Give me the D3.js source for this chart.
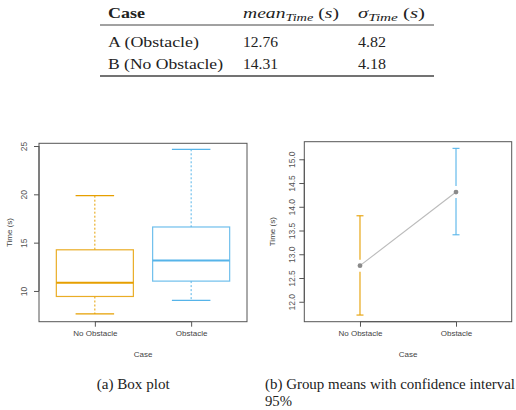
<!DOCTYPE html>
<html><head><meta charset="utf-8">
<script src="https://cdn.jsdelivr.net/npm/d3@7"></script>
<style>body{margin:0;background:#fff}svg{display:block}</style>
</head><body>
<script>
// ---- data ----
const categories = ["No Obstacle", "Obstacle"];
const boxLow    = [7.62, 9.02];
const boxQ1     = [9.43, 11.02];
const boxMedian = [10.86, 13.14];
const boxQ3     = [14.26, 16.62];
const boxHigh   = [19.86, 24.66];
const groupMeans = [12.76, 14.31];
const ciLow      = [11.72, 13.41];
const ciHigh     = [13.81, 15.23];
const colors = ["#E69F00", "#56B4E9"];
const boxTicks = [10, 15, 20, 25];
const meanTicks = [12.0, 12.5, 13.0, 13.5, 14.0, 14.5, 15.0];
const tableCases = ["A (Obstacle)", "B (No Obstacle)"];
const tableMeans = ["12.76", "14.31"];
const tableSds   = ["4.82", "4.18"];

const W = 516, H = 410;
const svg = d3.select("body").append("svg").attr("width", W).attr("height", H);

// ---- table ----
const serif = "'Liberation Serif','DejaVu Serif',serif";
const tbl = svg.append("g").attr("font-family", serif).attr("fill", "#222");
const colX = [108, 243, 358];
tbl.append("text").attr("x", colX[0]).attr("y", 17.5).attr("font-size", 15).attr("font-weight", "bold")
  .attr("textLength", 37).attr("lengthAdjust", "spacingAndGlyphs").text("Case");
function mathHead(x, main, w) {
  const t = tbl.append("text").attr("x", x).attr("y", 17.5).attr("font-size", 15)
    .attr("textLength", w).attr("lengthAdjust", "spacingAndGlyphs");
  t.append("tspan").attr("font-style", "italic").text(main);
  t.append("tspan").attr("font-style", "italic").attr("font-size", 11).attr("dy", 3).text("Time");
  t.append("tspan").attr("dy", -3).text("  (");
  t.append("tspan").attr("font-style", "italic").text("s");
  t.append("tspan").text(")");
  return t;
}
mathHead(colX[1], "mean", 96);
mathHead(colX[2], "σ", 67);
tbl.append("line").attr("x1", 100).attr("x2", 434).attr("y1", 25).attr("y2", 25).attr("stroke", "#444").attr("stroke-width", 1);
tbl.append("line").attr("x1", 100).attr("x2", 434).attr("y1", 76).attr("y2", 76).attr("stroke", "#444").attr("stroke-width", 1.6);
const rowY = [47, 68.5];
const caseW = [91, 115];
tableCases.forEach((c, i) => {
  tbl.append("text").attr("x", colX[0]).attr("y", rowY[i]).attr("font-size", 15)
    .attr("textLength", caseW[i]).attr("lengthAdjust", "spacingAndGlyphs").text(c);
  tbl.append("text").attr("x", colX[1]).attr("y", rowY[i]).attr("font-size", 15)
    .attr("textLength", 35).attr("lengthAdjust", "spacingAndGlyphs").text(tableMeans[i]);
  tbl.append("text").attr("x", colX[2]).attr("y", rowY[i]).attr("font-size", 15)
    .attr("textLength", 28).attr("lengthAdjust", "spacingAndGlyphs").text(tableSds[i]);
});

// ---- common panel drawing ----
const sans = "'Liberation Sans',Arial,sans-serif";
function panel(frame, ydom, ticks, fmt, tickLabelX) {
  const g = svg.append("g").attr("font-family", sans);
  const x = d3.scaleLinear().domain([0.42, 2.58]).range([frame.x0, frame.x1]);
  const y = d3.scaleLinear().domain(ydom).range([frame.y1, frame.y0]);
  g.append("rect").attr("x", frame.x0).attr("y", frame.y0)
    .attr("width", frame.x1 - frame.x0).attr("height", frame.y1 - frame.y0)
    .attr("fill", "none").attr("stroke", "#555").attr("stroke-width", 1);
  // y axis
  const ya = g.append("g").attr("transform", `translate(${frame.x0},0)`)
    .call(d3.axisLeft(y).tickValues(ticks).tickSize(5).tickFormat(fmt));
  ya.select(".domain").attr("d", `M0,${y(ticks[0])}V${y(ticks[ticks.length-1])}`).attr("stroke", "#555");
  ya.selectAll(".tick line").attr("stroke", "#555");
  ya.selectAll(".tick text").attr("font-size", 8.5).attr("fill", "#555").attr("font-family", sans)
    .attr("x", 0).attr("dy", 0).attr("text-anchor", "middle")
    .attr("transform", `translate(${tickLabelX - frame.x0},0) rotate(-90)`).attr("dominant-baseline", "central");
  // x axis
  const xa = g.append("g").attr("transform", `translate(0,${frame.y1})`)
    .call(d3.axisBottom(x).tickValues([1, 2]).tickSize(5).tickFormat((d) => categories[d - 1]));
  xa.select(".domain").attr("d", `M${x(1)},0H${x(2)}`).attr("stroke", "#555");
  xa.selectAll(".tick line").attr("stroke", "#555");
  xa.selectAll(".tick text").attr("font-size", 8).attr("fill", "#444").attr("font-family", sans).attr("y", 9).attr("dy", "0.71em");
  g.append("text").attr("x", (frame.x0 + frame.x1) / 2).attr("y", 357).attr("text-anchor", "middle")
    .attr("font-size", 8).attr("fill", "#444").text("Case");
  return {g, x, y};
}

// ---- (a) box plot ----
const A = panel({x0: 39, x1: 247, y0: 143.3, y1: 321.7}, [6.82, 25.28], boxTicks, d3.format("d"), 24);
A.g.append("text").attr("transform", `translate(9,${(143.3 + 321.7) / 2}) rotate(-90)`)
  .attr("text-anchor", "middle").attr("dominant-baseline", "central").attr("font-size", 8).attr("fill", "#444").text("Time (s)");
categories.forEach((c, i) => {
  const cx = A.x(i + 1), hw = A.x(1.4) - A.x(1), cw = A.x(1.2) - A.x(1);
  const gg = A.g.append("g").attr("stroke", colors[i]).attr("fill", "none");
  gg.append("line").attr("x1", cx).attr("x2", cx).attr("y1", A.y(boxHigh[i])).attr("y2", A.y(boxQ3[i]))
    .attr("stroke-dasharray", "2,2").attr("stroke-width", 1);
  gg.append("line").attr("x1", cx).attr("x2", cx).attr("y1", A.y(boxQ1[i])).attr("y2", A.y(boxLow[i]))
    .attr("stroke-dasharray", "2,2").attr("stroke-width", 1);
  gg.append("line").attr("x1", cx - cw).attr("x2", cx + cw).attr("y1", A.y(boxHigh[i])).attr("y2", A.y(boxHigh[i])).attr("stroke-width", 1.2);
  gg.append("line").attr("x1", cx - cw).attr("x2", cx + cw).attr("y1", A.y(boxLow[i])).attr("y2", A.y(boxLow[i])).attr("stroke-width", 1.2);
  gg.append("rect").attr("x", cx - hw).attr("width", 2 * hw).attr("y", A.y(boxQ3[i]))
    .attr("height", A.y(boxQ1[i]) - A.y(boxQ3[i])).attr("stroke-width", 1.2).attr("fill", "#fff").attr("stroke-opacity", 0.85);
  gg.append("line").attr("x1", cx - hw).attr("x2", cx + hw).attr("y1", A.y(boxMedian[i])).attr("y2", A.y(boxMedian[i])).attr("stroke-width", 2);
});

// ---- (b) group means ----
const B = panel({x0: 304.3, x1: 511.7, y0: 141.7, y1: 321.7}, [11.58, 15.37], meanTicks, d3.format(".1f"), 291.5);
B.g.append("text").attr("transform", `translate(272,${(141.7 + 321.7) / 2}) rotate(-90)`)
  .attr("text-anchor", "middle").attr("dominant-baseline", "central").attr("font-size", 8).attr("fill", "#444").text("Time (s)");
const gap = 6, capW = 3.5;
categories.forEach((c, i) => {
  const cx = B.x(i + 1), ym = B.y(groupMeans[i]);
  const gg = B.g.append("g").attr("stroke", colors[i]).attr("stroke-width", 1.1);
  gg.append("line").attr("x1", cx).attr("x2", cx).attr("y1", B.y(ciHigh[i])).attr("y2", ym - gap);
  gg.append("line").attr("x1", cx).attr("x2", cx).attr("y1", ym + gap).attr("y2", B.y(ciLow[i]));
  gg.append("line").attr("x1", cx - capW).attr("x2", cx + capW).attr("y1", B.y(ciHigh[i])).attr("y2", B.y(ciHigh[i]));
  gg.append("line").attr("x1", cx - capW).attr("x2", cx + capW).attr("y1", B.y(ciLow[i])).attr("y2", B.y(ciLow[i]));
});
B.g.append("path").datum(groupMeans)
  .attr("d", d3.line().x((d, i) => B.x(i + 1)).y((d) => B.y(d)))
  .attr("fill", "none").attr("stroke", "#bbb").attr("stroke-width", 1.1);
B.g.selectAll("circle.pt").data(groupMeans).join("circle")
  .attr("cx", (d, i) => B.x(i + 1)).attr("cy", (d) => B.y(d)).attr("r", 2.4).attr("fill", "#8a8a8a");

// ---- captions ----
const cap = svg.append("g").attr("font-family", serif).attr("fill", "#222").attr("font-size", 14);
cap.append("text").attr("x", 96.7).attr("y", 389).attr("textLength", 73).attr("lengthAdjust", "spacingAndGlyphs").text("(a) Box plot");
cap.append("text").attr("x", 265).attr("y", 389).attr("textLength", 250).attr("lengthAdjust", "spacingAndGlyphs").text("(b) Group means with confidence interval");
cap.append("text").attr("x", 265).attr("y", 406).attr("textLength", 27).attr("lengthAdjust", "spacingAndGlyphs").text("95%");
</script>
</body></html>
